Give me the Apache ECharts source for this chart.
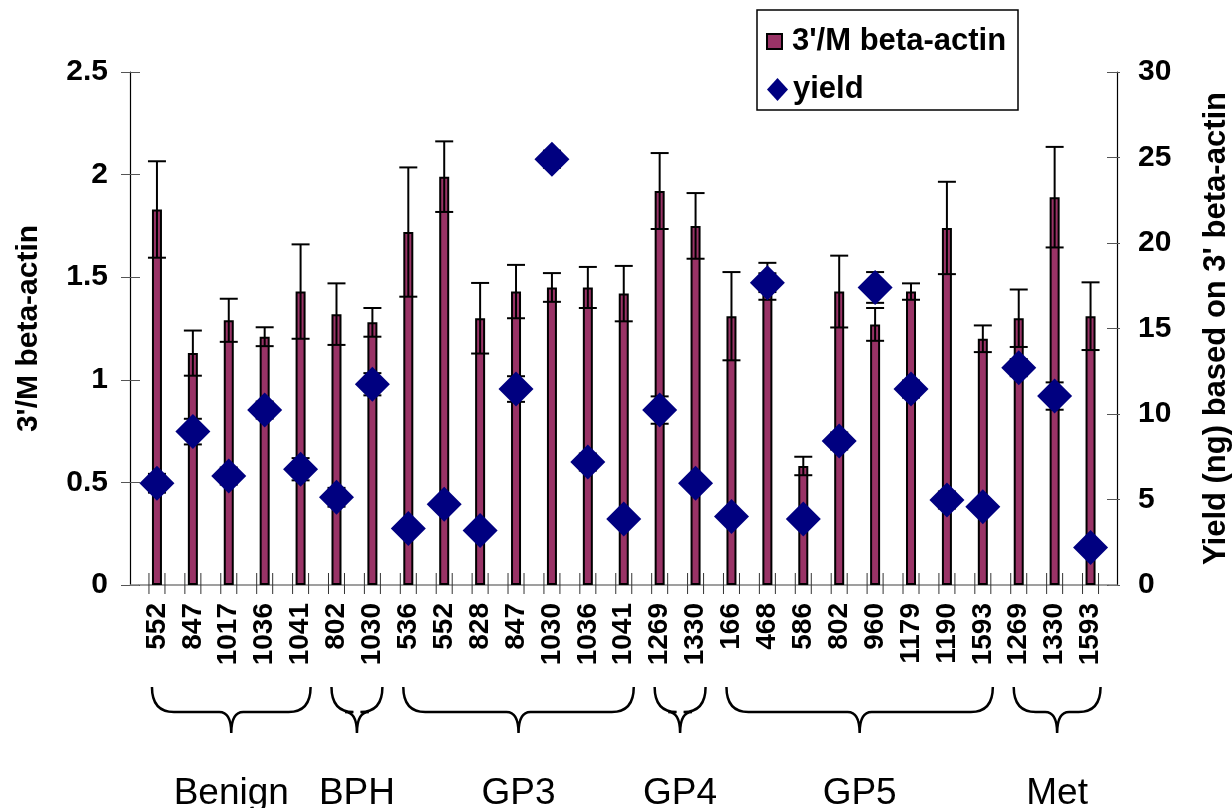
<!DOCTYPE html>
<html>
<head>
<meta charset="utf-8">
<script src="https://cdn.jsdelivr.net/npm/echarts@6/dist/echarts.min.js"></script>
<style>
  html, body { margin: 0; padding: 0; background: #fff; }
  #chart { width: 1232px; height: 808px; }
</style>
</head>
<body>
<div id="chart"></div>
<script>
// 数据
const categories = ['552', '847', '1017', '1036', '1041', '802', '1030', '536', '552', '828', '847', '1030', '1036', '1041',
  '1269', '1330', '166', '468', '586', '802', '960', '1179', '1190', '1593', '1269', '1330', '1593']
const ratio = [1.83, 1.13, 1.29, 1.21, 1.43, 1.32, 1.28, 1.72, 1.99, 1.30, 1.43, 1.45, 1.45, 1.42,
  1.92, 1.75, 1.31, 1.48, 0.58, 1.43, 1.27, 1.43, 1.74, 1.20, 1.30, 1.89, 1.31]
const ratioErr = [0.235, 0.11, 0.105, 0.046, 0.23, 0.15, 0.07, 0.315, 0.172, 0.172, 0.13, 0.07, 0.1, 0.135,
  0.185, 0.16, 0.215, 0.09, 0.045, 0.175, 0.08, 0.04, 0.225, 0.065, 0.14, 0.245, 0.165]
const yieldVals = [5.95, 8.97, 6.37, 10.23, 6.77, 5.13, 11.74, 3.31, 4.72, 3.18, 11.46, 24.9, 7.19, 3.86,
  10.23, 5.95, 4.0, 17.68, 3.86, 8.42, 17.4, 11.46, 4.97, 4.58, 12.71, 11.05, 2.2]
const yieldErr = [0.55, 0.75, 0.5, 0.5, 0.65, 0.55, 0.65, 0.3, 0.4, 0.3, 0.75, 0.5, 0.5, 0.3,
  0.8, 0.4, 0.3, 0.55, 0.3, 0.5, 0.9, 0.5, 0.5, 0.4, 0.5, 0.8, 0.3]
const groupNames = ['Benign', 'BPH', 'GP3', 'GP4', 'GP5', 'Met']
const groupStart = [0, 5, 7, 14, 16, 24]
const groupEnd = [4, 6, 13, 15, 23, 26]
const leftTicks = [0, 2.5, 0.5]   // min, max, interval
const rightTicks = [0, 30, 5]

const FONT = '"Liberation Sans", Arial, sans-serif'
const BAR_COLOR = '#993366'
const DIAMOND_COLOR = '#000080'

const chart = echarts.init(document.getElementById('chart'))

/**
 * 误差线
 */
const errorRender = (params, api) => {
  const i = api.value(0)
  const v = api.value(1)
  const e = api.value(2)
  const top = api.coord([i, v + e])
  const bottom = api.coord([i, v - e])
  const half = 9
  const style = { stroke: '#000', lineWidth: 2 }
  return {
    type: 'group',
    children: [
      { type: 'line', shape: { x1: top[0], y1: top[1], x2: bottom[0], y2: bottom[1] }, style },
      { type: 'line', shape: { x1: top[0] - half, y1: top[1], x2: top[0] + half, y2: top[1] }, style },
      { type: 'line', shape: { x1: bottom[0] - half, y1: bottom[1], x2: bottom[0] + half, y2: bottom[1] }, style }
    ]
  }
}

/**
 * x轴刻度（每个类别两条）
 */
const tickRender = (params, api) => {
  const i = api.value(0)
  const p = api.coord([i, 0])
  const bw = api.size([1, 0])[0]
  const style = { stroke: '#333', lineWidth: 1 }
  const children = [
    { type: 'line', shape: { x1: p[0] - 8, y1: p[1] - 12, x2: p[0] - 8, y2: p[1] + 9 }, style },
    { type: 'line', shape: { x1: p[0] + 8, y1: p[1] - 12, x2: p[0] + 8, y2: p[1] + 9 }, style }
  ]
  const axisStyle = { stroke: '#808080', lineWidth: 1.5 }
  if (i === 0) {
    children.push({ type: 'line', shape: { x1: p[0] - bw / 2 - 9, y1: p[1], x2: p[0] - bw / 2, y2: p[1] }, style: axisStyle })
  }
  if (i === categories.length - 1) {
    children.push({ type: 'line', shape: { x1: p[0] + bw / 2, y1: p[1], x2: p[0] + bw / 2 + 9, y2: p[1] }, style: axisStyle })
  }
  return { type: 'group', children }
}

/**
 * 分组括号和组名
 */
const braceRender = (params, api) => {
  const x0 = api.coord([api.value(0), 0])[0] - 5
  const x1 = api.coord([api.value(1), 0])[0] + 10
  const xm = (x0 + x1) / 2
  const yTop = 687
  const yMid = 712
  const yTip = 733
  const r = 22
  const r2 = 12
  const d = `M${x0},${yTop} Q${x0},${yMid} ${x0 + r},${yMid} L${xm - r2},${yMid} ` +
    `Q${xm},${yMid} ${xm},${yTip} Q${xm},${yMid} ${xm + r2},${yMid} ` +
    `L${x1 - r},${yMid} Q${x1},${yMid} ${x1},${yTop}`
  return {
    type: 'group',
    children: [
      { type: 'path', shape: { pathData: d }, style: { fill: null, stroke: '#000', lineWidth: 2.5 } },
      {
        type: 'text',
        x: xm,
        y: 794,
        style: {
          text: groupNames[params.dataIndex], fontFamily: FONT, fontSize: 37, fill: '#000',
          align: 'center', verticalAlign: 'middle'
        }
      }
    ]
  }
}

const boldText = { fontFamily: FONT, fontWeight: 'bold', color: '#000' }

const option = {
  animation: false,
  backgroundColor: '#fff',
  grid: { left: 139, right: 123.5, top: 72, bottom: 223, outerBoundsMode: 'none', containLabel: false },
  graphic: [
    {
      type: 'rect',
      shape: { x: 757, y: 10, width: 261, height: 100 },
      style: { fill: null, stroke: '#000', lineWidth: 1.5 },
      z: 10
    }
  ],
  legend: [
    {
      orient: 'vertical', left: 761, top: 21,
      itemWidth: 15, itemHeight: 15,
      textStyle: { ...boldText, fontSize: 31, padding: [0, 0, 0, 5] },
      data: [{ name: "3'/M beta-actin", icon: 'rect' }]
    },
    {
      orient: 'vertical', left: 762, top: 69,
      itemWidth: 21, itemHeight: 23,
      textStyle: { ...boldText, fontSize: 31 },
      data: [{ name: 'yield', icon: 'diamond' }]
    }
  ],
  xAxis: {
    type: 'category',
    data: categories,
    boundaryGap: true,
    axisLine: { lineStyle: { color: '#808080', width: 1.5 } },
    axisTick: { show: false },
    axisLabel: { ...boldText, fontSize: 28, rotate: 90, margin: 18, interval: 0 },
    splitLine: { show: false }
  },
  yAxis: [
    {
      type: 'value', position: 'left', offset: 9,
      min: leftTicks[0], max: leftTicks[1], interval: leftTicks[2],
      name: "3'/M beta-actin", nameLocation: 'middle', nameGap: 86, nameRotate: 90,
      nameTextStyle: { ...boldText, fontSize: 30 },
      axisLine: { show: true, lineStyle: { color: '#000', width: 1.2 } },
      axisTick: { show: true, length: 9, lineStyle: { color: '#555' } },
      axisLabel: { ...boldText, fontSize: 30, margin: 22 },
      splitLine: { show: false }
    },
    {
      type: 'value', position: 'right', offset: 8.5,
      min: rightTicks[0], max: rightTicks[1], interval: rightTicks[2],
      name: "Yield (ng) based on 3' beta-actin", nameLocation: 'middle', nameGap: 84, nameRotate: 90,
      nameTextStyle: { ...boldText, fontSize: 31 },
      axisLine: { show: true, lineStyle: { color: '#000', width: 1.2 } },
      axisTick: { show: true, length: 3, lineStyle: { color: '#555' } },
      axisLabel: { ...boldText, fontSize: 30, margin: 21 },
      splitLine: { show: false }
    },
    {
      type: 'value', position: 'left', offset: 9,
      min: leftTicks[0], max: leftTicks[1], interval: leftTicks[2],
      axisLine: { show: false },
      axisTick: { show: true, inside: true, length: 10, lineStyle: { color: '#555' } },
      axisLabel: { show: false },
      splitLine: { show: false }
    },
    {
      type: 'value', position: 'right', offset: 8.5,
      min: rightTicks[0], max: rightTicks[1], interval: rightTicks[2],
      axisLine: { show: false },
      axisTick: { show: true, inside: true, length: 10, lineStyle: { color: '#555' } },
      axisLabel: { show: false },
      splitLine: { show: false }
    }
  ],
  series: [
    {
      name: "3'/M beta-actin",
      type: 'bar',
      data: ratio,
      barWidth: 10,
      itemStyle: { color: BAR_COLOR, borderColor: '#000', borderWidth: 2 },
      z: 2
    },
    {
      name: 'ratioErr',
      type: 'custom',
      renderItem: errorRender,
      data: ratio.map((v, i) => [i, v, ratioErr[i]]),
      encode: { x: 0, y: 1 },
      z: 3
    },
    {
      name: 'yieldErr',
      type: 'custom',
      yAxisIndex: 1,
      renderItem: errorRender,
      data: yieldVals.map((v, i) => [i, v, yieldErr[i]]),
      encode: { x: 0, y: 1 },
      z: 3
    },
    {
      name: 'yield',
      type: 'scatter',
      yAxisIndex: 1,
      symbol: 'diamond',
      symbolSize: 35,
      data: yieldVals.map((v, i) => [i, v]),
      itemStyle: { color: DIAMOND_COLOR, opacity: 1 },
      z: 5
    },
    {
      name: 'xticks',
      type: 'custom',
      renderItem: tickRender,
      data: categories.map((c, i) => [i, 0]),
      encode: { x: 0, y: 1 },
      silent: true,
      z: 1
    },
    {
      name: 'groups',
      type: 'custom',
      renderItem: braceRender,
      data: groupNames.map((n, g) => [groupStart[g], groupEnd[g], 0]),
      encode: { x: [0, 1], y: 2 },
      silent: true,
      clip: false,
      z: 1
    }
  ]
}

chart.setOption(option)

window.addEventListener('resize', () => chart.resize())
</script>
</body>
</html>
